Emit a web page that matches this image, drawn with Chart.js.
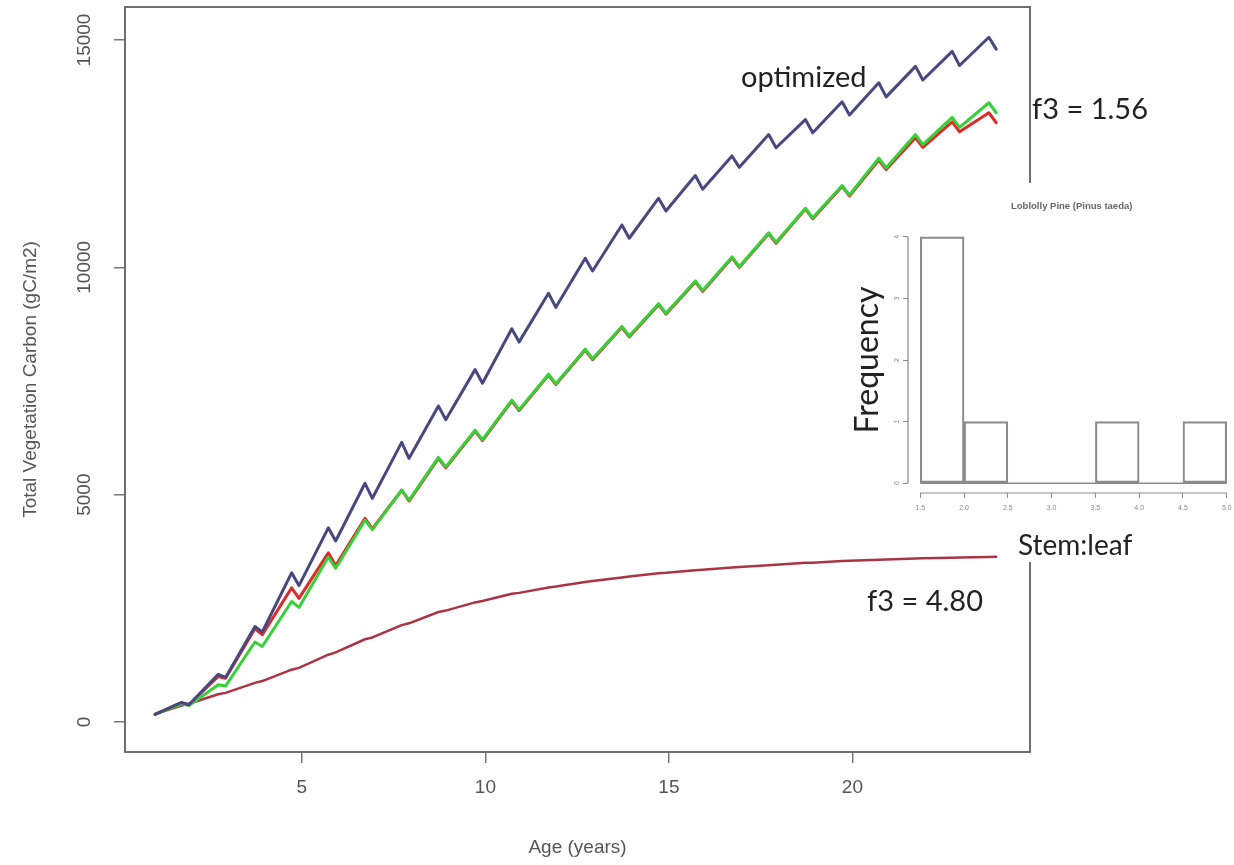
<!DOCTYPE html>
<html>
<head>
<meta charset="utf-8">
<script src="https://cdn.jsdelivr.net/npm/chart.js@4.4.1/dist/chart.umd.min.js"></script>
<style>
  html, body { margin: 0; padding: 0; background: #fff; overflow: hidden; }
  #wrap { position: relative; width: 1234px; height: 865px; }
  #mainChart { position: absolute; left: 0; top: 0; }
  #histChart { position: absolute; left: 845px; top: 183px; }
  .note { position: absolute; font-family: Lato, "Open Sans", sans-serif; color: #222; white-space: nowrap; line-height: 1; }
  #histTitle { font-family: "Liberation Sans", Arial, sans-serif; font-weight: bold; font-size: 9.5px; color: #666; left: 1011px; top: 201px; }
  #stemLeaf { background: #fff; padding: 2px 4px 4px 0; }
</style>
</head>
<body>
<div id="wrap">
  <canvas id="mainChart" width="1234" height="865"></canvas>
  <canvas id="histChart" width="394" height="352"></canvas>
  <div class="note" id="histTitle">Loblolly Pine (Pinus taeda)</div>
  <div class="note" style="left:741px; top:61px; font-size:29px;">optimized</div>
  <div class="note" style="left:1032px; top:93px; font-size:29px;">f3 = 1.56</div>
  <div class="note" id="stemLeaf" style="left:1018px; top:528px; font-size:28px;">Stem:leaf</div>
  <div class="note" style="left:867px; top:585px; font-size:29px;">f3 = 4.80</div>
</div>
<script>
// ages: tooth peak late in each year, quick drop to a trough just after it
const ages = [1, 1.72, 1.92, 2.72, 2.92, 3.72, 3.92, 4.72, 4.92, 5.72, 5.92, 6.72, 6.92, 7.72, 7.92,
  8.72, 8.92, 9.72, 9.92, 10.72, 10.92, 11.72, 11.92, 12.72, 12.92, 13.72, 13.92, 14.72, 14.92, 15.72,
  15.92, 16.72, 16.92, 17.72, 17.92, 18.72, 18.92, 19.72, 19.92, 20.72, 20.92, 21.72, 21.92, 22.72,
  22.92, 23.72, 23.92];

const carbonOptimized = [170, 430, 380, 1050, 980, 2100, 1980, 3280, 3000, 4270, 3980, 5250, 4920, 6150,
  5800, 6950, 6650, 7750, 7450, 8650, 8360, 9430, 9120, 10200, 9920, 10930, 10640, 11520, 11240, 12020,
  11720, 12450, 12200, 12920, 12630, 13250, 12960, 13640, 13350, 14060, 13750, 14420, 14120, 14750,
  14440, 15060, 14800];

const carbonGreen = [170, 400, 360, 820, 790, 1760, 1660, 2650, 2520, 3630, 3380, 4440, 4230, 5100, 4880,
  5820, 5610, 6420, 6210, 7080, 6870, 7650, 7440, 8200, 7990, 8700, 8490, 9200, 8990, 9700, 9490, 10230,
  10020, 10760, 10550, 11300, 11090, 11800, 11590, 12400, 12190, 12920, 12700, 13300, 13080, 13620, 13400];

const carbonRed = [170, 420, 380, 1000, 960, 2050, 1920, 2950, 2720, 3720, 3440, 4480, 4250, 5100, 4860,
  5800, 5590, 6400, 6190, 7060, 6850, 7630, 7420, 8180, 7970, 8680, 8470, 9180, 8970, 9680, 9470, 10210,
  10000, 10740, 10530, 11280, 11070, 11780, 11570, 12360, 12150, 12850, 12640, 13200, 12980, 13400, 13180];

const carbonF3High = [176, 360, 400, 610, 640, 860, 900, 1150, 1190, 1480, 1530, 1820, 1860, 2130, 2170,
  2420, 2450, 2630, 2660, 2820, 2840, 2960, 2980, 3080, 3100, 3180, 3200, 3270, 3280, 3340, 3350, 3400,
  3410, 3450, 3460, 3500, 3505, 3540, 3545, 3570, 3575, 3595, 3600, 3615, 3618, 3630, 3632];

const xTickValues = [5, 10, 15, 20];
const xTickLabels = ['5', '10', '15', '20'];
const yTickValues = [0, 5000, 10000, 15000];
const yTickLabels = ['0', '5000', '10000', '15000'];

// inset histogram of stem:leaf ratio
const histEdges = [1.5, 2.0, 2.5, 3.0, 3.5, 4.0, 4.5, 5.0];
const histCounts = [4, 1, 0, 0, 1, 0, 1];
const histTickLabels = ['1.5', '2.0', '2.5', '3.0', '3.5', '4.0', '4.5', '5.0'];
const histYTickValues = [0, 1, 2, 3, 4];
const histYTickLabels = ['0', '1', '2', '3', '4'];

const toPoints = (xs, ys) => xs.map((x, i) => ({ x: x, y: ys[i] }));
const fixTicks = values => scale => { scale.ticks = values.map(v => ({ value: v })); };

// R-like axes: box, axis line from first to last tick, rotated y labels
const rAxes = {
  id: 'rAxes',
  beforeDraw(chart, args, opts) {
    if (opts.panel) {
      const p = opts.panel;
      chart.ctx.save();
      chart.ctx.fillStyle = '#fff';
      chart.ctx.fillRect(p[0], p[1], p[2], p[3]);
      chart.ctx.restore();
    }
  },
  afterDraw(chart, args, opts) {
    const ctx = chart.ctx;
    const area = chart.chartArea;
    const xs = chart.scales.x, ys = chart.scales.y;
    const xt = xs.ticks, yt = ys.ticks;
    ctx.save();
    ctx.strokeStyle = opts.color;
    ctx.lineWidth = opts.lineWidth;
    if (opts.box) {
      ctx.strokeRect(area.left, area.top, area.right - area.left, area.bottom - area.top);
    }
    ctx.beginPath();
    ctx.moveTo(xs.getPixelForValue(xt[0].value), area.bottom);
    ctx.lineTo(xs.getPixelForValue(xt[xt.length - 1].value), area.bottom);
    ctx.moveTo(area.left, ys.getPixelForValue(yt[0].value));
    ctx.lineTo(area.left, ys.getPixelForValue(yt[yt.length - 1].value));
    ctx.stroke();

    ctx.font = opts.yFont;
    ctx.fillStyle = opts.yColor;
    ctx.textAlign = 'center';
    ctx.textBaseline = 'middle';
    yt.forEach((t, i) => {
      ctx.save();
      ctx.translate(opts.yLabelX, ys.getPixelForValue(t.value));
      ctx.rotate(-Math.PI / 2);
      ctx.fillText(opts.yLabels[i], 0, 0);
      ctx.restore();
    });
    ctx.restore();
  }
};

const axisFont = '"Liberation Sans", Arial, sans-serif';

new Chart(document.getElementById('mainChart'), {
  type: 'line',
  data: {
    datasets: [
      { label: 'optimized', data: toPoints(ages, carbonOptimized), borderColor: '#48487f', borderWidth: 3 },
      { label: 'f3 = 1.56', data: toPoints(ages, carbonGreen), borderColor: '#38d038', borderWidth: 3 },
      { label: 'f3 = 1.56 (red)', data: toPoints(ages, carbonRed), borderColor: '#dd2a2a', borderWidth: 3 },
      { label: 'f3 = 4.80', data: toPoints(ages, carbonF3High), borderColor: '#aa3444', borderWidth: 2.5 }
    ]
  },
  options: {
    responsive: false,
    animation: false,
    devicePixelRatio: 1,
    layout: { padding: { top: 7, right: 204, left: 0, bottom: 0 } },
    elements: { point: { radius: 0 }, line: { tension: 0, borderJoinStyle: 'round', borderCapStyle: 'round' } },
    plugins: {
      legend: { display: false },
      tooltip: { enabled: false },
      rAxes: {
        box: true, color: '#6e6e6e', lineWidth: 2,
        yFont: '19px ' + axisFont, yColor: '#555', yLabelX: 85, yLabels: yTickLabels
      }
    },
    scales: {
      x: {
        type: 'linear', min: 0.18, max: 24.84,
        afterBuildTicks: fixTicks(xTickValues),
        afterFit: s => { s.height = 113; },
        border: { display: false },
        grid: { drawOnChartArea: false, tickLength: 11, color: '#777', lineWidth: 1.5 },
        ticks: {
          padding: 13,
          font: { family: axisFont, size: 19 }, color: '#555',
          callback: (v, i) => xTickLabels[i]
        },
        title: {
          display: true, text: 'Age (years)', color: '#555',
          font: { family: axisFont, size: 19 }, padding: { top: 0, bottom: 6 }
        }
      },
      y: {
        type: 'linear', min: -660, max: 15726,
        afterBuildTicks: fixTicks(yTickValues),
        afterFit: s => { s.width = 125; },
        border: { display: false },
        grid: { drawOnChartArea: false, tickLength: 11, color: '#777', lineWidth: 1.5 },
        ticks: { display: false },
        title: {
          display: true, text: 'Total Vegetation Carbon (gC/m2)', color: '#555',
          font: { family: axisFont, size: 19 }, padding: { top: 19 }
        }
      }
    }
  },
  plugins: [rAxes]
});

const histCenters = histCounts.map((c, i) => (histEdges[i] + histEdges[i + 1]) / 2);

new Chart(document.getElementById('histChart'), {
  type: 'bar',
  data: {
    datasets: [
      {
        label: 'Stem:leaf', data: toPoints(histCenters, histCounts),
        backgroundColor: 'rgba(255,255,255,0)', borderColor: '#8c8c8c', borderWidth: 1.5,
        borderSkipped: false, barPercentage: 1, categoryPercentage: 1
      },
      {
        type: 'line', label: 'base',
        data: [{ x: histEdges[0], y: 0 }, { x: histEdges[histEdges.length - 1], y: 0 }],
        borderColor: '#8c8c8c', borderWidth: 1.5, pointRadius: 0
      }
    ]
  },
  options: {
    responsive: false,
    animation: false,
    devicePixelRatio: 1,
    layout: { padding: { top: 44, right: 0, left: 0, bottom: 0 } },
    plugins: {
      legend: { display: false },
      tooltip: { enabled: false },
      rAxes: {
        box: false, color: '#8c8c8c', lineWidth: 1.2, panel: [40, 0, 354, 352],
        yFont: '7px ' + axisFont, yColor: '#888', yLabelX: 52, yLabels: histYTickLabels
      }
    },
    scales: {
      x: {
        type: 'linear', min: 1.36, max: 5.14, offset: false,
        afterBuildTicks: fixTicks(histEdges),
        afterFit: s => { s.height = 42; },
        border: { display: false },
        grid: { drawOnChartArea: false, offset: false, tickLength: 5, color: '#8c8c8c' },
        ticks: {
          padding: 6, maxRotation: 0,
          font: { family: axisFont, size: 7 }, color: '#888',
          callback: (v, i) => histTickLabels[i]
        }
      },
      y: {
        type: 'linear', min: -0.16, max: 4.16,
        afterBuildTicks: fixTicks(histYTickValues),
        afterFit: s => { s.width = 63; },
        border: { display: false },
        grid: { drawOnChartArea: false, tickLength: 5, color: '#8c8c8c' },
        ticks: { display: false },
        title: {
          display: true, text: 'Frequency', color: '#222',
          font: { family: 'Lato, "Open Sans", sans-serif', size: 32 }, padding: { top: 3 }
        }
      }
    }
  },
  plugins: [rAxes]
});
</script>
</body>
</html>
